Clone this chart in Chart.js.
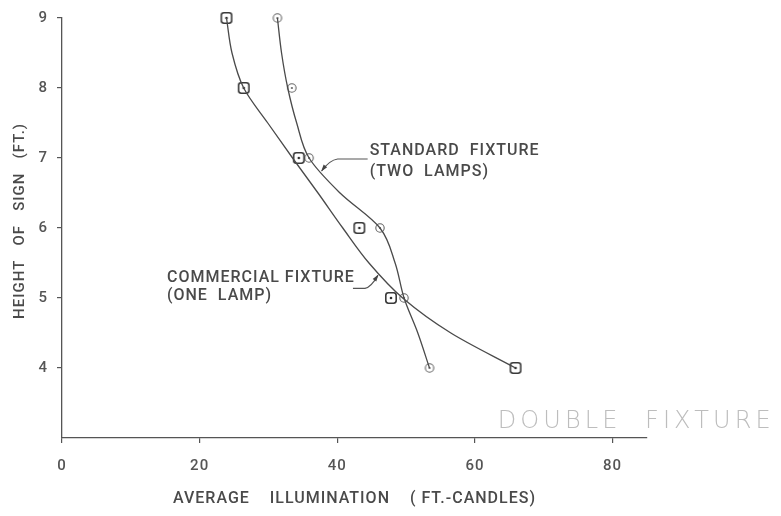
<!DOCTYPE html>
<html>
<head>
<meta charset="utf-8">
<title>Height of sign vs. average illumination</title>
<script src="https://cdn.jsdelivr.net/npm/chart.js@4.4.1/dist/chart.umd.min.js"></script>
<style>
  html, body { margin: 0; padding: 0; background: #ffffff; }
  #wrap { width: 781px; height: 516px; position: relative; }
</style>
</head>
<body>
<div id="wrap"><canvas id="chart"></canvas></div>
<script>
// Sign heights (ft.) at which readings were taken
const heights = [9, 8, 7, 6, 5, 4];
// Measured average illumination (ft.-candles)
const commercialOneLamp = [23.9, 26.4, 34.4, 43.2, 47.8, 65.9];
const standardTwoLamps  = [31.3, 33.4, 35.9, 46.2, 49.7, 53.4];
// Faired curves drawn through the readings, taken every half foot
const curveHeights    = [9, 8.5, 8, 7.5, 7, 6.5, 6, 5.5, 5, 4.5, 4];
const commercialCurve = [23.9, 24.7, 26.4, 29.9, 33.5, 37.2, 40.8, 44.6, 49.5, 56.5, 65.9];
const standardCurve   = [31.3, 31.9, 32.8, 34.1, 35.9, 40.4, 46.2, 48.4, 49.7, 51.7, 53.4];
// Axis ticks
const xTickValues = [0, 20, 40, 60, 80];
const yTickValues = [4, 5, 6, 7, 8, 9];

const INK = '#4a4a4a';
const FONT = 'Roboto';

const toPoints = (xs, ys) => xs.map((v, i) => ({ x: v, y: ys[i] }));

// Marker glyphs: rounded square with centre dot, small circle with centre dot
function squareMarker() {
  const c = document.createElement('canvas');
  c.width = 14; c.height = 14;
  const g = c.getContext('2d');
  g.strokeStyle = '#3a3a3a';
  g.lineWidth = 1.6;
  g.beginPath();
  g.roundRect(1.8, 1.8, 10.4, 10.4, 2.6);
  g.stroke();
  g.fillStyle = '#2e2e2e';
  g.beginPath(); g.arc(7, 7, 1.3, 0, Math.PI * 2); g.fill();
  return c;
}
function circleMarker() {
  const c = document.createElement('canvas');
  c.width = 12; c.height = 12;
  const g = c.getContext('2d');
  g.strokeStyle = '#666';
  g.lineWidth = 1.1;
  g.beginPath(); g.arc(6, 6, 4.2, 0, Math.PI * 2); g.stroke();
  g.fillStyle = '#555';
  g.beginPath(); g.arc(6, 6, 1.0, 0, Math.PI * 2); g.fill();
  return c;
}

// Wider lettering for all chart text
const lettering = {
  id: 'lettering',
  beforeDraw(chart) { chart.ctx.letterSpacing = '1px'; }
};

function arrowHead(ctx, fromX, fromY, tipX, tipY) {
  const a = Math.atan2(tipY - fromY, tipX - fromX);
  const len = 7, half = 2.2;
  ctx.save();
  ctx.translate(tipX, tipY);
  ctx.rotate(a);
  ctx.beginPath();
  ctx.moveTo(0, 0);
  ctx.lineTo(-len, -half);
  ctx.lineTo(-len, half);
  ctx.closePath();
  ctx.fill();
  ctx.restore();
}

// Curve labels with leaders, and the pencilled note
const notes = {
  id: 'notes',
  afterDraw(chart) {
    const { ctx, scales: { x, y } } = chart;
    ctx.save();
    ctx.fillStyle = INK;
    ctx.strokeStyle = '#555';
    ctx.lineWidth = 1.1;
    ctx.font = '500 16px ' + FONT;
    ctx.letterSpacing = '1px';
    ctx.textBaseline = 'middle';
    ctx.textAlign = 'left';

    // Standard fixture label
    let ax = x.getPixelForValue(44.7), ay = y.getPixelForValue(7.1);
    ctx.fillText('STANDARD  FIXTURE', ax, ay);
    ctx.fillText('(TWO  LAMPS)', ax, ay + 21);
    ctx.beginPath();
    ctx.moveTo(ax - 2, ay + 8);
    ctx.lineTo(ax - 32, ay + 8);
    ctx.quadraticCurveTo(ax - 40, ay + 9, ax - 48, ay + 20);
    ctx.stroke();
    ctx.fillStyle = '#444';
    arrowHead(ctx, ax - 42, ay + 12, ax - 48.5, ay + 20.5);

    // Commercial fixture label
    ctx.fillStyle = INK;
    ax = x.getPixelForValue(15.25); ay = y.getPixelForValue(5.28);
    ctx.fillText('COMMERCIAL FIXTURE', ax, ay);
    ctx.fillText('(ONE  LAMP)', ax, ay + 18);
    ctx.beginPath();
    ctx.moveTo(ax + 186, ay + 10);
    ctx.lineTo(ax + 198, ay + 10);
    ctx.quadraticCurveTo(ax + 204, ay + 9, ax + 211, ay - 3);
    ctx.stroke();
    ctx.fillStyle = '#444';
    arrowHead(ctx, ax + 206, ay + 4, ax + 211.5, ay - 4);

    // Pencilled note
    ctx.font = '300 24px "DejaVu Sans"';
    ctx.letterSpacing = '0px';
    const note = 'DOUBLE  FIXTURE';
    const target = 277;
    const w0 = ctx.measureText(note).width;
    ctx.letterSpacing = ((target - w0) / note.length).toFixed(2) + 'px';
    ctx.fillStyle = '#bdbdbd';
    ctx.fillText(note, x.getPixelForValue(63.3), y.getPixelForValue(3.23));
    ctx.restore();
  }
};

const axisCommon = {
  type: 'linear',
  grid: { display: true, drawOnChartArea: false, drawTicks: true, tickLength: 5, color: '#555', lineWidth: 1.2 },
  border: { display: true, color: '#555', width: 1.3 }
};

new Chart(document.getElementById('chart'), {
  type: 'line',
  data: {
    datasets: [
      {
        label: 'Commercial fixture (one lamp) curve',
        data: toPoints(commercialCurve, curveHeights),
        indexAxis: 'y',
        cubicInterpolationMode: 'monotone',
        borderColor: '#4a4a4a',
        borderWidth: 1.3,
        pointRadius: 0,
        fill: false,
        clip: false
      },
      {
        label: 'Standard fixture (two lamps) curve',
        data: toPoints(standardCurve, curveHeights),
        indexAxis: 'y',
        cubicInterpolationMode: 'monotone',
        borderColor: '#4a4a4a',
        borderWidth: 1.3,
        pointRadius: 0,
        fill: false,
        clip: false
      },
      {
        label: 'Commercial fixture (one lamp)',
        data: toPoints(commercialOneLamp, heights),
        indexAxis: 'y',
        showLine: false,
        pointStyle: squareMarker(),
        pointRadius: 6,
        clip: false
      },
      {
        label: 'Standard fixture (two lamps)',
        data: toPoints(standardTwoLamps, heights),
        indexAxis: 'y',
        showLine: false,
        pointStyle: circleMarker(),
        pointRadius: 5,
        clip: false
      }
    ]
  },
  options: {
    responsive: true,
    maintainAspectRatio: false,
    animation: false,
    events: [],
    layout: { padding: { top: 17, right: 134, left: 0, bottom: 0 } },
    plugins: { legend: { display: false }, tooltip: { enabled: false } },
    scales: {
      x: {
        ...axisCommon,
        position: 'bottom',
        min: 0,
        max: 85,
        afterBuildTicks: s => { s.ticks = xTickValues.map(v => ({ value: v })); },
        afterFit: s => { s.height = 78; },
        ticks: { color: '#555', font: { family: FONT, size: 15, weight: '500' }, padding: 14, maxRotation: 0 },
        title: {
          display: true,
          text: 'AVERAGE    ILLUMINATION    ( FT.-CANDLES)',
          color: INK,
          font: { family: FONT, size: 16, weight: '500' },
          padding: { top: 0, bottom: 7 }
        }
      },
      y: {
        ...axisCommon,
        position: 'left',
        min: 3,
        max: 9,
        afterBuildTicks: s => { s.ticks = yTickValues.map(v => ({ value: v })); },
        afterFit: s => { s.width = 62; },
        ticks: { color: '#555', font: { family: FONT, size: 15, weight: '500' }, padding: 9 },
        title: {
          display: true,
          text: '   HEIGHT   OF   SIGN   (FT.)',
          color: INK,
          font: { family: FONT, size: 15, weight: '500' },
          padding: { top: 11, bottom: 0 }
        }
      }
    }
  },
  plugins: [lettering, notes]
});
</script>
</body>
</html>
